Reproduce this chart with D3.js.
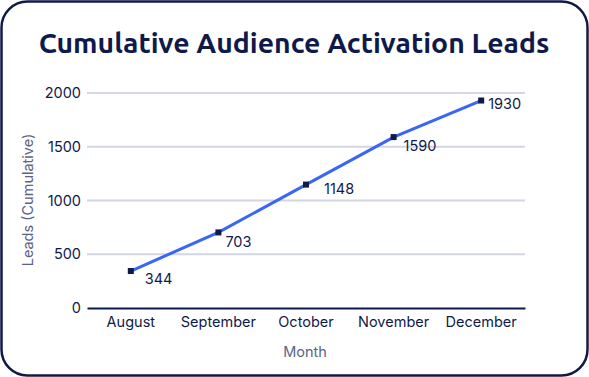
<!DOCTYPE html>
<html lang="en">
<head>
<meta charset="UTF-8">
<title>Cumulative Audience Activation Leads</title>
<script src="https://d3js.org/d3.v7.min.js"></script>
<style>
  body { margin: 0; background: #fff; }
  text { font-family: Inter, "Noto Sans", sans-serif; }
</style>
</head>
<body>
<div id="chart"></div>
<script>
// data
var months = ["August", "September", "October", "November", "December"];
var leads = [344, 703, 1148, 1590, 1930];
var yTicks = [0, 500, 1000, 1500, 2000];

// label nudges (px) relative to each point
var labelDx = [14, 7, 18, 10, 7];
var labelDy = [8, 9, 4, 9, 3];

var width = 589, height = 377;
var navy = "#0f1a4b";

var svg = d3.select("#chart").append("svg")
    .attr("width", width)
    .attr("height", height);

// card frame
svg.append("rect")
    .attr("x", 1.5).attr("y", 1.5)
    .attr("width", width - 3).attr("height", height - 3)
    .attr("rx", 26)
    .attr("fill", "#fff")
    .attr("stroke", navy)
    .attr("stroke-width", 2.5);

svg.append("text")
    .attr("x", 294).attr("y", 53)
    .attr("text-anchor", "middle")
    .style("font-family", "Ubuntu, 'Noto Sans', sans-serif")
    .style("font-size", "28.4px")
    .style("font-weight", "bold")
    .attr("fill", navy)
    .text("Cumulative Audience Activation Leads");

var x = d3.scaleBand().domain(months).range([87, 525]);
var y = d3.scaleLinear().domain([0, 2000]).range([308, 93]);

// gridlines
svg.append("g")
    .selectAll("line")
    .data(yTicks.filter(function(d) { return d > 0; }))
    .join("line")
    .attr("x1", 87).attr("x2", 525)
    .attr("y1", function(d) { return y(d); })
    .attr("y2", function(d) { return y(d); })
    .attr("stroke", "#d3d6e4")
    .attr("stroke-width", 2);

// y axis
var yAxis = svg.append("g")
    .attr("transform", "translate(87,0)")
    .call(d3.axisLeft(y).tickValues(yTicks).tickFormat(d3.format("d")).tickSize(0).tickPadding(6));
yAxis.select(".domain").remove();
yAxis.selectAll("text")
    .style("font-size", "14.5px")
    .attr("fill", navy);

// x axis
var xAxis = svg.append("g")
    .attr("transform", "translate(0,308)")
    .call(d3.axisBottom(x).tickSize(0).tickPadding(9));
xAxis.select(".domain").attr("stroke", navy).attr("stroke-width", 2);
xAxis.selectAll("text")
    .style("font-size", "14.5px")
    .attr("fill", navy);

// axis titles
svg.append("text")
    .attr("transform", "translate(33,200) rotate(-90)")
    .attr("text-anchor", "middle")
    .style("font-size", "14.5px")
    .attr("fill", "#5b6387")
    .text("Leads (Cumulative)");

svg.append("text")
    .attr("x", 305).attr("y", 357)
    .attr("text-anchor", "middle")
    .style("font-size", "14.5px")
    .attr("fill", "#5b6387")
    .text("Month");

// line
var line = d3.line()
    .x(function(d, i) { return x(months[i]) + x.bandwidth() / 2; })
    .y(function(d) { return y(d); });

svg.append("path")
    .datum(leads)
    .attr("d", line)
    .attr("fill", "none")
    .attr("stroke", "#3a66f5")
    .attr("stroke-width", 3);

// markers
svg.append("g")
    .selectAll("rect")
    .data(leads)
    .join("rect")
    .attr("x", function(d, i) { return x(months[i]) + x.bandwidth() / 2 - 3; })
    .attr("y", function(d) { return y(d) - 3; })
    .attr("width", 6).attr("height", 6)
    .attr("fill", navy);

// value labels
svg.append("g")
    .selectAll("text")
    .data(leads)
    .join("text")
    .attr("x", function(d, i) { return x(months[i]) + x.bandwidth() / 2 + labelDx[i]; })
    .attr("y", function(d, i) { return y(d) + labelDy[i]; })
    .attr("dy", "0.35em")
    .style("font-size", "14.5px")
    .attr("fill", navy)
    .text(function(d) { return d; });
</script>
</body>
</html>
